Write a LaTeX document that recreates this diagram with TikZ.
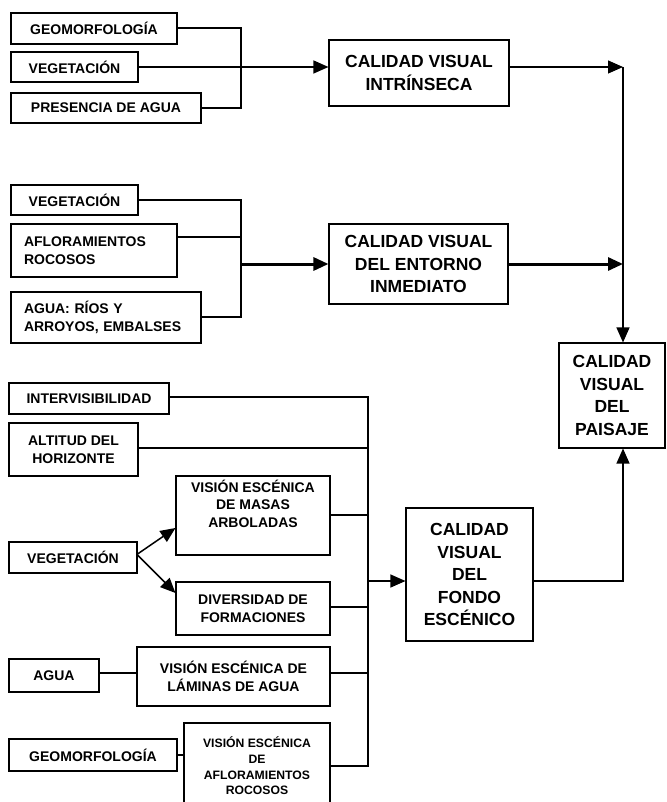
\documentclass[tikz,border=0pt]{standalone}
\usepackage{fontspec}
\setmainfont{Liberation Sans}
\usetikzlibrary{arrows.meta}
\newcommand\fsm{\fontsize{14}{17.5}\selectfont\bfseries}
\newcommand\fbig{\fontsize{17.5}{22.5}\selectfont\bfseries}
\newcommand\ftiny{\fontsize{12.2}{15.7}\selectfont\bfseries}
\tikzset{
  box/.style={draw=black, line width=1.1pt, inner sep=0pt, align=center, font=\fsm, fill=white},
  bigbox/.style={box, font=\fbig},
  lbox/.style={box, align=left, inner xsep=13pt},
  conn/.style={draw=black, line width=1.2pt},
  thickconn/.style={draw=black, line width=3pt},
  arr/.style={-{Triangle[length=15pt,width=13pt]}},
}
\begin{document}
\begin{tikzpicture}[x=1pt,y=-1pt]
\useasboundingbox (0,0) rectangle (666,802);
% bus coordinates
\coordinate (b1) at (241,0);
\coordinate (b3) at (368,0);
\coordinate (rx) at (623,0);
% top group
\node[box, minimum width=166pt, minimum height=31pt] (g1) at (94,28.5) {GEOMORFOLOGÍA};
\node[box, minimum width=127pt, minimum height=30pt] (v1) at (74.5,67) {VEGETACIÓN};
\node[box, minimum width=190pt, minimum height=30pt] (a1) at (106,108) {PRESENCIA DE AGUA};
\node[bigbox, minimum width=180pt, minimum height=66pt] (cvi) at (419,73) {CALIDAD VISUAL\\INTRÍNSECA};
% middle group
\node[box, minimum width=127pt, minimum height=30pt] (v2) at (74.5,200) {VEGETACIÓN};
\node[lbox, text width=140pt, minimum height=53pt] (af) at (94,250.5) {AFLORAMIENTOS\\ROCOSOS};
\node[lbox, text width=164pt, minimum height=51pt] (ag) at (106,317.5) {AGUA: RÍOS Y\\ARROYOS, EMBALSES};
\node[bigbox, minimum width=179pt, minimum height=80pt] (cve) at (418.5,264) {CALIDAD VISUAL\\DEL ENTORNO\\INMEDIATO};
% result
\node[bigbox, minimum width=106pt, minimum height=105pt] (cvp) at (612,395.5) {CALIDAD\\VISUAL\\DEL\\PAISAJE};
% bottom group
\node[box, minimum width=160pt, minimum height=31pt] (iv) at (89,398.5) {INTERVISIBILIDAD};
\node[box, minimum width=129pt, minimum height=53pt] (al) at (73.5,449.5) {ALTITUD DEL\\HORIZONTE};
\node[box, minimum width=154pt, minimum height=79pt] (vm) at (253,515.5) {VISIÓN ESCÉNICA\\DE MASAS\\ARBOLADAS\\[6pt]};
\node[box, minimum width=128pt, minimum height=31pt] (v3) at (73,557.5) {VEGETACIÓN};
\node[box, minimum width=154pt, minimum height=53pt] (dv) at (253,608.5) {DIVERSIDAD DE\\FORMACIONES};
\node[box, minimum width=90pt, minimum height=33pt] (ag3) at (54,675.5) {AGUA};
\node[box, minimum width=193pt, minimum height=59pt] (lm) at (233.5,676.5) {VISIÓN ESCÉNICA DE\\LÁMINAS DE AGUA};
\node[box, minimum width=168pt, minimum height=32pt] (g3) at (93,755) {GEOMORFOLOGÍA};
\node[box, font=\ftiny, minimum width=146pt, minimum height=86pt] (ar) at (257,766) {VISIÓN ESCÉNICA\\DE\\AFLORAMIENTOS\\ROCOSOS};
\node[bigbox, minimum width=127pt, minimum height=133pt] (cvf) at (469.5,574.5) {CALIDAD\\VISUAL\\DEL\\FONDO\\ESCÉNICO};
% top connectors
\draw[conn] (g1.east |- 0,28) -- (b1 |- 0,28) -- (b1 |- 0,108) -- (a1.east |- 0,108);
\draw[conn,arr] (v1.east) -- (v1.east -| cvi.west);
\draw[conn,arr] (v1.east -| cvi.east) -- (rx |- v1.east);
\draw[conn,arr] (rx |- v1.east) -- (rx |- cvp.north);
% middle connectors
\draw[conn] (v2.east) -- (b1 |- v2.east) -- (b1 |- 0,317) -- (ag.east |- 0,317);
\draw[conn] (af.east |- 0,237) -- (b1 |- 0,237);
\draw[thickconn,arr] (b1 |- cve.west) -- (cve.west);
\draw[thickconn,arr] (cve.east) -- (rx |- cve.east);
% bottom connectors
\draw[conn] (iv.east |- 0,397) -- (b3 |- 0,397) -- (b3 |- 0,766) -- (ar.east |- 0,766);
\draw[conn] (al.east |- 0,448) -- (b3 |- 0,448);
\draw[conn] (vm.east |- 0,515) -- (b3 |- 0,515);
\draw[conn] (dv.east |- 0,607) -- (b3 |- 0,607);
\draw[conn] (lm.east |- 0,673) -- (b3 |- 0,673);
\draw[conn,arr] (b3 |- 0,581) -- (cvf.west |- 0,581);
\draw[conn,arr] (cvf.east |- 0,581) -| (rx |- cvp.south);
\draw[conn] (ag3.east |- 0,673) -- (lm.west |- 0,673);
\draw[conn] (g3.east) -- (ar.west |- g3.east);
\draw[conn,line width=1.5pt,arr] (v3.east |- 0,554) -- (vm.west |- 0,528);
\draw[conn,line width=1.5pt,arr] (v3.east |- 0,555) -- (dv.west |- 0,593);
\end{tikzpicture}
\end{document}
